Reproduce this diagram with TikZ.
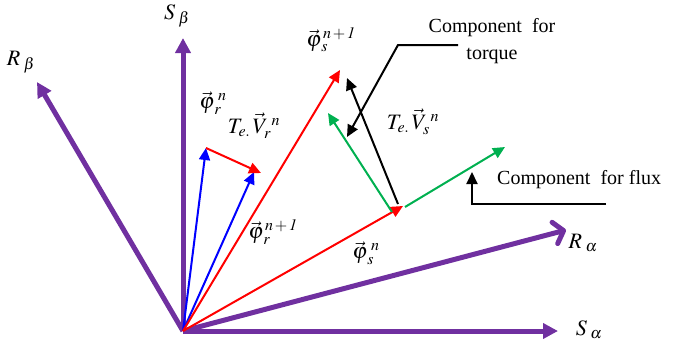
\documentclass[tikz,border=0pt]{standalone}
\usepackage{mathptmx}
\usepackage{fontspec}
\setmainfont{Liberation Serif}
\usetikzlibrary{arrows.meta}
\DeclareMathSizes{22}{22}{16}{12}
\definecolor{vpurple}{HTML}{7030A0}
\definecolor{vred}{HTML}{FF0000}
\definecolor{vblue}{HTML}{0000FF}
\definecolor{vgreen}{HTML}{00B050}
\newcommand{\nplus}{n\,{+}\,\mathit{1}}
\tikzset{
  axarr/.style={-{Triangle[length=15pt,width=15pt]}, line width=5pt, vpurple},
  barbarr/.style={-{Straight Barb[length=9pt,width=22pt,round]}, line width=5pt, vpurple},
  varr/.style={-{Triangle[length=12pt,width=11pt]}, line width=2pt},
  callout/.style={-{Triangle[length=12pt,width=11pt]}, line width=2pt, black},
  lbl/.style={font=\fontsize{20}{24}\selectfont, inner sep=1pt},
  mlbl/.style={font=\fontsize{22}{26}\selectfont, inner sep=1pt},
}
\begin{document}
\begin{tikzpicture}[x=1pt, y=-1pt]
  \useasboundingbox (0,0) rectangle (673,346);

  %% Frames
  \coordinate (O)  at (183,331);
  \coordinate (Sb) at (183,38);
  \coordinate (Rb) at (37,82);
  \coordinate (Sa) at (558,331);
  \coordinate (Ra) at (566,230);
  \draw[axarr] (O) -- (Sb);
  \draw[axarr] (O) -- (Rb);
  \draw[axarr] (O) -- (Sa);
  \draw[barbarr] (O) -- (Ra);
  \node[mlbl] (lSb) at (177,16)  {$S_{\;\beta}$};
  \node[mlbl] (lRb) at (21,62)   {$R_{\;\beta}$};
  \node[mlbl] (lSa) at (589,330) {$S_{\;\alpha}$};
  \node[mlbl] (lRa) at (583,243) {$R_{\;\alpha}$};

  %% Rotor flux
  \coordinate (Fr)  at (206,148);
  \coordinate (Fr1) at (254,172);
  \coordinate (Vr)  at (261,173);
  \draw[varr, vblue] (O) -- (Fr);
  \draw[varr, vblue] (O) -- (Fr1);
  \draw[varr, vred] (Fr) -- (Vr);
  \node[mlbl] (lFr)  at (213,103) {$\vec{\varphi}_{\,r}^{\;n}$};
  \node[mlbl] (lVr)  at (254,126) {$T_{e.}\,\vec{V}_{r}^{\;n}$};
  \node[mlbl] (lFr1) at (273,232) {$\vec{\varphi}_{\,r}^{\,\nplus}$};

  %% Stator flux
  \coordinate (Fs)  at (403,206);
  \coordinate (Fs1) at (340,70);
  \coordinate (Vs0) at (398,204);
  \coordinate (Vs)  at (347,78);
  \coordinate (Gt0) at (392,212);
  \coordinate (Gt)  at (328,113);
  \coordinate (Gf0) at (405,207);
  \coordinate (Gf)  at (505,147);
  \draw[varr, vred] (O) -- (Fs1);
  \draw[varr, vred] (O) -- (Fs);
  \draw[varr, vgreen] (Gt0) -- (Gt);
  \draw[varr, vgreen] (Gf0) -- (Gf);
  \draw[varr, black] (Vs0) -- (Vs);
  \node[mlbl] (lFs1) at (331,40)  {$\vec{\varphi}_{\,s}^{\,\nplus}$};
  \node[mlbl] (lFs)  at (366,253) {$\vec{\varphi}_{\,s}^{\;n}$};
  \node[mlbl] (lVs)  at (413,122) {$T_{e.}\,\vec{V}_{s}^{\;n}$};

  %% Callouts
  \node[lbl, align=center] (torque) at (492,41) {Component\ \ for\\[3pt]torque};
  \node[lbl, anchor=west] (flux) at (496,180) {Component\ \ for flux};
  \coordinate (t0) at (458,45);
  \coordinate (t1) at (398,45);
  \coordinate (t2) at (347,137);
  \coordinate (f0) at (606,204);
  \coordinate (f1) at (472,204);
  \coordinate (f2) at (472,172);
  \draw[callout] (t0) -- (t1) -- (t2);
  \draw[callout] (f0) -- (f1) -- (f2);

\end{tikzpicture}
\end{document}
